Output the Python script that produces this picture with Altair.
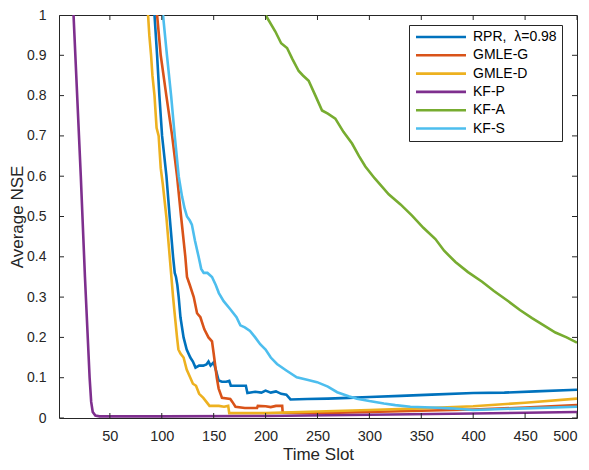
import altair as alt
import pandas as pd

series_names = ["RPR,\u00a0 λ=0.98", "GMLE-G", "GMLE-D", "KF-P", "KF-A", "KF-S"]
colors = ["#0072BD", "#D95319", "#EDB120", "#7E2F8E", "#77AC30", "#4DBEEE"]

rpr_x = [93, 95.5, 97.7, 100.3, 102, 104.5, 107.6, 110.9, 112.5, 113.7, 115, 116.3, 118, 121, 124, 127.5,
         130, 132.5, 136, 140, 143, 145, 147, 150, 152, 154.8, 158, 162, 165, 166.5, 175, 181, 182.5, 190,
         196, 200, 205, 210, 215, 220, 224, 240, 260, 280, 300, 330, 360, 400, 430, 460, 500]
rpr_y = [1.0, 0.9, 0.8, 0.7, 0.66, 0.6, 0.5, 0.4, 0.36, 0.35, 0.33, 0.3, 0.25, 0.2, 0.17, 0.15,
         0.14, 0.125, 0.13, 0.13, 0.133, 0.14, 0.13, 0.138, 0.12, 0.093, 0.09, 0.09, 0.092, 0.08, 0.08, 0.08, 0.062, 0.065,
         0.063, 0.068, 0.063, 0.066, 0.06, 0.058, 0.046, 0.047, 0.048, 0.05, 0.052, 0.055, 0.058, 0.062, 0.063, 0.066, 0.07]

gmleg_x = [95.5, 99, 104.4, 110, 114.7, 118.6, 122.7, 124.3, 127, 130.8, 134, 137.2, 141, 145, 148.4, 150, 153,
           154.8, 158, 166, 168, 171, 180, 191.8, 192.5, 200, 205, 210, 216, 216.5, 250, 300, 350, 400, 450, 500]
gmleg_y = [1.0, 0.9, 0.8, 0.7, 0.6, 0.5, 0.4, 0.35, 0.33, 0.3, 0.26, 0.25, 0.22, 0.2, 0.19, 0.16, 0.1,
           0.073, 0.05, 0.047, 0.04, 0.028, 0.025, 0.025, 0.03, 0.029, 0.027, 0.03, 0.03, 0.013, 0.012, 0.015, 0.018, 0.021, 0.026, 0.032]

gmled_x = [86.8, 88, 89.7, 91, 93, 95, 97, 99, 101, 104.4, 107, 110.9, 112, 114.7, 116, 118, 121, 124, 127.5,
           130, 133, 136, 140, 143, 146, 155, 160, 164, 165, 200, 250, 300, 350, 400, 450, 500]
gmled_y = [1.0, 0.95, 0.9, 0.85, 0.8, 0.72, 0.7, 0.62, 0.58, 0.5, 0.42, 0.3, 0.27, 0.2, 0.17, 0.16, 0.15, 0.12, 0.1,
           0.085, 0.08, 0.06, 0.05, 0.04, 0.03, 0.03, 0.028, 0.03, 0.012, 0.012, 0.016, 0.02, 0.024, 0.029, 0.038, 0.048]

kfp_x = [15, 22, 26, 30.5, 32, 33.5, 36, 40, 100, 200, 300, 400, 500]
kfp_y = [1.0, 0.6, 0.35, 0.1, 0.04, 0.015, 0.006, 0.004, 0.004, 0.005, 0.008, 0.011, 0.015]

kfa_x = [200, 209.4, 215, 220.7, 226, 231.9, 236, 241.5, 248, 254.4, 260, 267.2, 275, 283.3, 290, 296.1, 305,
         318.6, 330, 341.1, 352, 363.6, 372, 382.9, 395, 408.6, 420, 434.2, 445, 456.7, 468, 479.2, 490, 500]
kfa_y = [1.0, 0.959, 0.93, 0.918, 0.89, 0.861, 0.85, 0.837, 0.8, 0.763, 0.755, 0.743, 0.71, 0.681, 0.65, 0.624, 0.595,
         0.555, 0.53, 0.502, 0.472, 0.444, 0.415, 0.387, 0.362, 0.338, 0.315, 0.289, 0.268, 0.248, 0.23, 0.212, 0.2, 0.187]

kfs_x = [101.2, 105, 109, 112.5, 116.3, 119.5, 122, 124.3, 127, 129, 132, 135.5, 138, 140.4, 144, 148.4, 152, 155,
         159.6, 166, 172, 175.7, 180, 185, 190, 194.8, 200, 205, 211, 220, 230, 240, 249.6, 260, 269, 280, 288, 300,
         314, 325, 339.5, 360, 378, 400, 450, 500]
kfs_y = [1.0, 0.9, 0.8, 0.7, 0.6, 0.55, 0.52, 0.5, 0.49, 0.48, 0.44, 0.4, 0.37, 0.36, 0.36, 0.35, 0.33, 0.31,
         0.29, 0.27, 0.25, 0.23, 0.225, 0.216, 0.2, 0.183, 0.17, 0.15, 0.134, 0.118, 0.101, 0.095, 0.089, 0.078, 0.064,
         0.054, 0.048, 0.042, 0.036, 0.032, 0.028, 0.026, 0.024, 0.02, 0.024, 0.028]

x_ticks = [50, 100, 150, 200, 250, 300, 350, 400, 450, 500]
y_ticks = [0, 0.1, 0.2, 0.3, 0.4, 0.5, 0.6, 0.7, 0.8, 0.9, 1]
x_domain = [1, 500]
y_domain = [0, 1]

all_x = [rpr_x, gmleg_x, gmled_x, kfp_x, kfa_x, kfs_x]
all_y = [rpr_y, gmleg_y, gmled_y, kfp_y, kfa_y, kfs_y]

rows = []
for name, xs, ys in zip(series_names, all_x, all_y):
    for i, (xv, yv) in enumerate(zip(xs, ys)):
        rows.append({"slot": xv, "nse": yv, "method": name, "idx": i})
df = pd.DataFrame(rows)

# tick marks on the four edges of the box (MATLAB-style inward ticks)
xtick_df = pd.DataFrame([{"slot": t, "nse": e} for t in x_ticks for e in y_domain])
ytick_df = pd.DataFrame([{"slot": e, "nse": t} for t in y_ticks for e in x_domain])

AX = "#262626"
FONT = "Liberation Sans"

x_scale = alt.Scale(domain=x_domain, nice=False, zero=False)
y_scale = alt.Scale(domain=y_domain, nice=False, zero=False)

x_axis = alt.Axis(values=x_ticks, orient="bottom", domain=False, grid=False, ticks=False, tickSize=0,
                  labelFont=FONT, labelFontSize=14.5, labelColor=AX, labelPadding=11, labelFlush=True,
                  title="Time Slot", titleFont=FONT, titleFontSize=17, titleFontWeight="normal",
                  titleColor=AX, titlePadding=4)
y_axis = alt.Axis(values=y_ticks, orient="left", domain=False, grid=False, ticks=False, tickSize=0,
                  format=".1~f", labelFont=FONT, labelFontSize=14, labelColor=AX, labelPadding=13,
                  labelFlush=False, title="Average NSE", titleFont=FONT, titleFontSize=17,
                  titleFontWeight="normal", titleColor=AX, titlePadding=0)

legend = alt.Legend(title=None, orient="none", legendX=350, legendY=10,
                    symbolType="M-5,0H5", symbolSize=100, symbolStrokeWidth=2.6,
                    symbolOffset=20, labelOffset=25, labelFont=FONT, labelFontSize=14,
                    labelColor="black", padding=5, rowPadding=4.3, strokeColor=AX,
                    fillColor="white", cornerRadius=0)

color = alt.Color("method:N", scale=alt.Scale(domain=series_names, range=colors), legend=legend)

X = alt.X("slot:Q", scale=x_scale, axis=x_axis)
Y = alt.Y("nse:Q", scale=y_scale, axis=y_axis)

layers = []
for name in series_names:
    layers.append(
        alt.Chart(df).transform_filter(alt.datum.method == name)
        .mark_line(strokeWidth=2.6, clip=True)
        .encode(x=X, y=Y, color=color, order="idx:Q")
    )

xticks_layer = alt.Chart(xtick_df).mark_tick(orient="vertical", size=10, thickness=1, color=AX,
                                             clip=True, opacity=1).encode(x=X, y=Y)
yticks_layer = alt.Chart(ytick_df).mark_tick(orient="horizontal", size=10, thickness=1, color=AX,
                                             clip=True, opacity=1).encode(x=X, y=Y)

chart = alt.layer(*layers, xticks_layer, yticks_layer).properties(
    width=518, height=403,
    autosize=alt.AutoSizeParams(type="none"),
    padding={"left": 51, "top": 7, "right": 4, "bottom": 48},
).configure_view(stroke=AX, strokeWidth=1)

chart.save("out.html", embed_options={"renderer": "svg", "actions": False})
